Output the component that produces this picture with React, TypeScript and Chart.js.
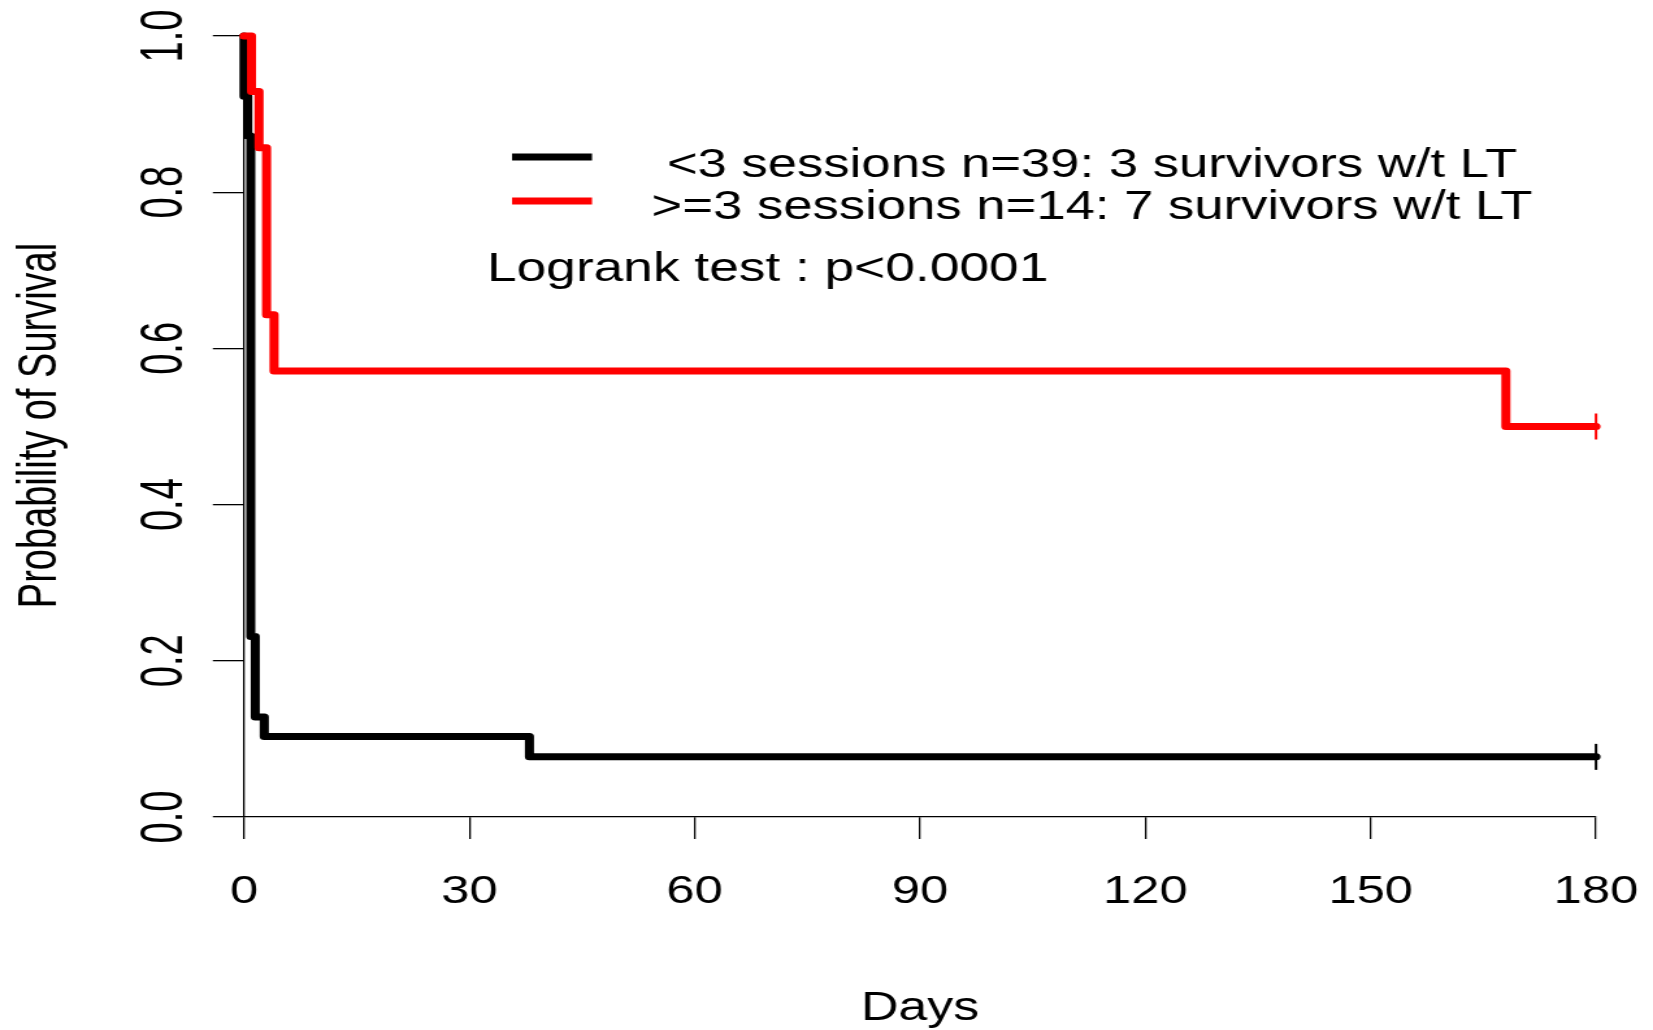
import React, { useEffect, useRef } from "react";
import { Chart, registerables } from "chart.js";

Chart.register(...registerables);

// ---------- data ----------
const lowSessionDays = [0, 0, 0.5, 0.9, 1.5, 2.7, 38, 180];
const lowSessionSurvival = [1.0, 0.923, 0.872, 0.231, 0.128, 0.103, 0.077, 0.077];
const highSessionDays = [0, 1, 2, 3, 4, 168, 180];
const highSessionSurvival = [1.0, 0.929, 0.857, 0.643, 0.571, 0.5, 0.5];

const xTicks = [0, 30, 60, 90, 120, 150, 180];
const yTicks = [0, 0.2, 0.4, 0.6, 0.8, 1.0];
const yTickLabels = ["0.0", "0.2", "0.4", "0.6", "0.8", "1.0"];

const legendLabels = [
  "<3 sessions n=39: 3 survivors w/t LT",
  ">=3 sessions n=14: 7 survivors w/t LT",
];
const seriesColors = ["#000000", "#ff0000"];
const testLabel = "Logrank test : p<0.0001";
const xTitle = "Days";
const yTitle = "Probability of Survival";

// ---------- layout ----------
const W = 1653;
const H = 1030;
const CW = 1272; // canvas drawn narrower then stretched horizontally
const SX = W / CW;
const FONT = "'Liberation Sans', Arial, Helvetica, sans-serif";

const PLOT_LEFT = 244 / SX;
const PLOT_RIGHT = 1596 / SX;
const PLOT_TOP = 36;
const PLOT_BOTTOM = 817;

const overlayPlugin = {
  id: "rOverlay",
  afterDraw(chart: any) {
    const ctx = chart.ctx as CanvasRenderingContext2D;
    const ys = chart.scales.y;
    const area = chart.chartArea;
    ctx.save();
    ctx.fillStyle = "#000";

    // rotated y tick labels
    ctx.font = `38px ${FONT}`;
    yTicks.forEach((v, i) => {
      const py = ys.getPixelForValue(v);
      ctx.save();
      ctx.translate(181.7 / SX, py);
      ctx.scale(1.2, 1);
      ctx.rotate(-Math.PI / 2);
      ctx.textAlign = "center";
      ctx.textBaseline = "alphabetic";
      ctx.fillText(yTickLabels[i], 0, 0);
      ctx.restore();
    });

    // y axis title
    ctx.save();
    ctx.font = `38px ${FONT}`;
    ctx.translate(55.7 / SX, (area.top + area.bottom) / 2 - 1);
    ctx.scale(1.13, 1);
    ctx.rotate(-Math.PI / 2);
    ctx.textAlign = "center";
    ctx.textBaseline = "alphabetic";
    ctx.fillText(yTitle, 0, 0);
    ctx.restore();

    // x axis title
    ctx.save();
    ctx.font = `40px ${FONT}`;
    ctx.textAlign = "center";
    ctx.textBaseline = "alphabetic";
    ctx.fillText(xTitle, (area.left + area.right) / 2, 1020);
    ctx.restore();

    // legend lines
    const lineYs = [157, 201];
    seriesColors.forEach((c, i) => {
      ctx.save();
      ctx.strokeStyle = c;
      ctx.lineWidth = 7;
      ctx.lineCap = "butt";
      ctx.beginPath();
      ctx.moveTo(512 / SX, lineYs[i]);
      ctx.lineTo(592 / SX, lineYs[i]);
      ctx.stroke();
      ctx.restore();
    });

    // legend texts (centered)
    ctx.font = `40.5px ${FONT}`;
    ctx.textAlign = "center";
    ctx.textBaseline = "alphabetic";
    const textYs = [177, 219];
    legendLabels.forEach((t, i) => {
      ctx.fillText(t, 1092 / SX, textYs[i]);
    });

    // logrank text
    ctx.font = `41px ${FONT}`;
    ctx.textAlign = "left";
    ctx.fillText(testLabel, 487 / SX, 281);

    ctx.restore();
  },
};

export default function App() {
  const ref = useRef<HTMLCanvasElement>(null);

  useEffect(() => {
    const canvas = ref.current;
    if (!canvas) return;

    const mk = (days: number[], surv: number[]) =>
      days.map((d, i) => ({ x: d, y: surv[i] }));
    const endMarks = (n: number) =>
      Array.from({ length: n }, (_, i) => (i === n - 1 ? 13 : 0));

    const chart = new Chart(canvas, {
      type: "line",
      data: {
        datasets: [
          {
            label: legendLabels[1],
            data: mk(highSessionDays, highSessionSurvival),
            borderColor: seriesColors[1],
            backgroundColor: seriesColors[1],
            borderWidth: 7,
            stepped: "before",
            fill: false,
            pointRadius: endMarks(highSessionDays.length),
            pointStyle: "line",
            pointRotation: 90,
            pointBorderColor: seriesColors[1],
            pointBorderWidth: 2,
            borderJoinStyle: "round",
            borderCapStyle: "round",
            clip: false,
            order: 0,
          } as any,
          {
            label: legendLabels[0],
            data: mk(lowSessionDays, lowSessionSurvival),
            borderColor: seriesColors[0],
            backgroundColor: seriesColors[0],
            borderWidth: 7,
            stepped: "before",
            fill: false,
            pointRadius: endMarks(lowSessionDays.length),
            pointStyle: "line",
            pointRotation: 90,
            pointBorderColor: seriesColors[0],
            pointBorderWidth: 2,
            borderJoinStyle: "round",
            borderCapStyle: "round",
            clip: false,
            order: 1,
          } as any,
        ],
      },
      options: {
        responsive: false,
        animation: false,
        events: [],
        layout: {
          padding: { left: 0, top: PLOT_TOP, right: CW - PLOT_RIGHT, bottom: 0 },
        },
        plugins: {
          legend: { display: false },
          tooltip: { enabled: false },
        },
        scales: {
          x: {
            type: "linear",
            min: 0,
            max: 180,
            afterBuildTicks: (s: any) => {
              s.ticks = xTicks.map((v) => ({ value: v }));
            },
            afterFit: (s: any) => {
              s.height = H - PLOT_BOTTOM;
              s.paddingLeft = 0;
              s.paddingRight = 0;
            },
            grid: {
              display: true,
              drawOnChartArea: false,
              drawTicks: true,
              tickLength: 22,
              color: "#000",
              lineWidth: 1.3,
            },
            border: { display: true, color: "#000", width: 1.3 },
            ticks: {
              color: "#000",
              font: { family: FONT, size: 39, lineHeight: 1.2 },
              padding: 30,
              maxRotation: 0,
              minRotation: 0,
              autoSkip: false,
            },
            title: { display: false },
          },
          y: {
            type: "linear",
            min: 0,
            max: 1,
            afterBuildTicks: (s: any) => {
              s.ticks = yTicks.map((v) => ({ value: v }));
            },
            afterFit: (s: any) => {
              s.width = PLOT_LEFT;
              s.paddingTop = 0;
              s.paddingBottom = 0;
            },
            grid: {
              display: true,
              drawOnChartArea: false,
              drawTicks: true,
              tickLength: 24,
              color: "#000",
              lineWidth: 1.3,
            },
            border: { display: true, color: "#000", width: 1.3 },
            ticks: { display: false },
            title: { display: false },
          },
        },
      } as any,
      plugins: [overlayPlugin],
    });

    return () => chart.destroy();
  }, []);

  return (
    <div
      style={{
        position: "absolute",
        left: 0,
        top: 0,
        width: W,
        height: H,
        overflow: "hidden",
        background: "#fff",
      }}
    >
      <canvas
        ref={ref}
        width={CW}
        height={H}
        style={{
          display: "block",
          width: `${CW}px`,
          height: `${H}px`,
          transform: `scaleX(${SX})`,
          transformOrigin: "0 0",
        }}
      />
    </div>
  );
}
